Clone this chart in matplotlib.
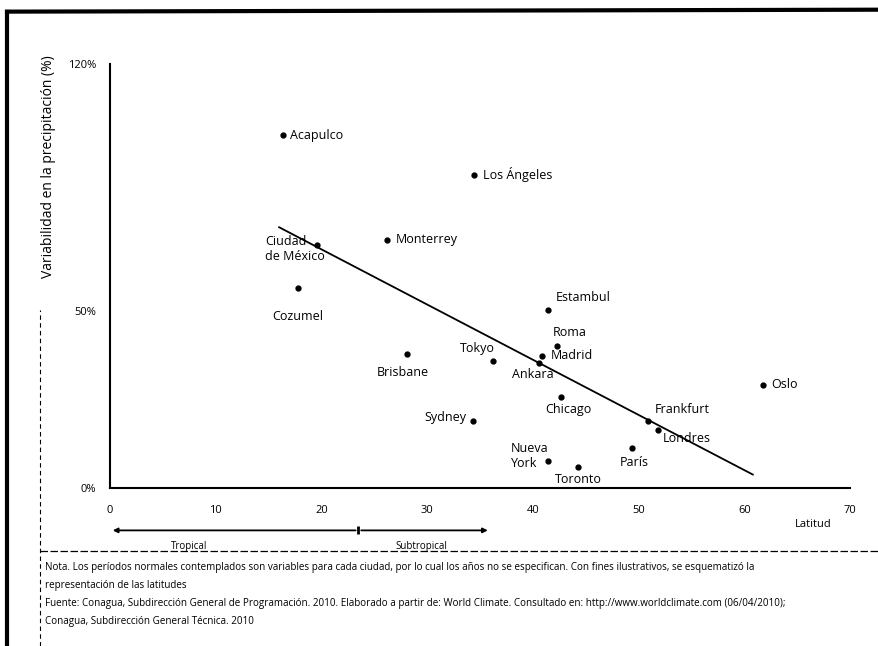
import matplotlib
matplotlib.use('Agg')
import matplotlib.pyplot as plt
from matplotlib.lines import Line2D

plt.rcParams['font.family'] = ['Open Sans', 'DejaVu Sans']

# ciudades, latitud (grados) y variabilidad de la precipitacion (%)
ciudades = ['Acapulco', 'Los Ángeles', 'Ciudad\nde México', 'Monterrey', 'Cozumel',
            'Estambul', 'Roma', 'Madrid', 'Ankara', 'Tokyo', 'Brisbane', 'Sydney',
            'Chicago', 'Nueva\nYork', 'Toronto', 'París', 'Frankfurt', 'Londres', 'Oslo']
latitud = [16.4, 34.4, 19.6, 26.2, 17.8,
           41.4, 42.3, 40.9, 40.6, 36.2, 28.1, 34.3,
           42.7, 41.4, 44.3, 49.4, 50.9, 51.8, 61.8]
variabilidad = [99.9, 88.6, 68.8, 70.2, 56.6,
                50.4, 40.2, 37.4, 35.5, 36.0, 37.9, 19.0,
                25.8, 7.6, 5.9, 11.3, 19.0, 16.4, 29.2]

# tendencia
tend_lat = [16.0, 60.8]
tend_var = [73.8, 3.8]

x_ticks = [0, 10, 20, 30, 40, 50, 60, 70]
y_ticks = [0, 50, 120]
y_tick_labels = ['0%', '50%', '120%']

zonas = [0, 23.5, 36]
zona_labels = ['Tropical', 'Subtropical']
zona_label_x = [7.5, 29.5]

# posicion de las etiquetas (pixeles desde el punto)
offsets = [(7, 0, 'left', 'center'), (9, 0, 'left', 'center'), (-52, 10, 'left', 'top'),
           (9, 0, 'left', 'center'), (0, -28, 'center', 'center'),
           (8, 12, 'left', 'center'), (-4, 13, 'left', 'center'), (8, 0, 'left', 'center'),
           (-6, -12, 'center', 'center'), (2, 12, 'right', 'center'), (-4, -18, 'center', 'center'),
           (-6, 3, 'right', 'center'), (7, -13, 'center', 'center'), (-37, -9, 'left', 'bottom'),
           (0, -12, 'center', 'center'), (2, -14, 'center', 'center'), (7, 11, 'left', 'center'),
           (5, -8, 'left', 'center'), (8, 0, 'left', 'center')]

fig = plt.figure(figsize=(8.79, 6.46), dpi=100)
ax = fig.add_axes([0.1251, 0.2446, 0.842, 0.6563])

ax.plot(tend_lat, tend_var, color='black', lw=1.3)
ax.plot(latitud, variabilidad, 'o', color='black', markersize=3.5)

for c, x, y, (dx, dy, ha, va) in zip(ciudades, latitud, variabilidad, offsets):
    ax.annotate(c, (x, y), xytext=(dx, dy), textcoords='offset pixels',
                ha=ha, va=va, fontsize=9, multialignment='left')

ax.set_xlim(0, 70)
ax.set_ylim(0, 120)
ax.set_xticks(x_ticks)
ax.set_yticks(y_ticks)
ax.set_yticklabels(y_tick_labels)
ax.tick_params(length=0, labelsize=8, pad=12)
ax.tick_params(axis='y', pad=10)
for s in ['top', 'right']:
    ax.spines[s].set_visible(False)
for s in ['left', 'bottom']:
    ax.spines[s].set_linewidth(1.5)

ax.text(66.5, -0.085, 'Latitud', transform=ax.get_xaxis_transform(), fontsize=8,
        ha='center', va='center')

# zonas tropical / subtropical
tr = ax.get_xaxis_transform()
ax.annotate('', xy=(zonas[0], -0.1), xytext=(zonas[1], -0.1), xycoords=tr,
            arrowprops=dict(arrowstyle='-|>', color='black', lw=1.3, mutation_scale=7))
ax.annotate('', xy=(zonas[2], -0.1), xytext=(zonas[1], -0.1), xycoords=tr,
            arrowprops=dict(arrowstyle='-|>', color='black', lw=1.3, mutation_scale=7))
ax.plot([zonas[1]], [-0.1], marker='|', color='black', markersize=6, mew=2,
        transform=tr, clip_on=False)
for lab, xl in zip(zona_labels, zona_label_x):
    ax.text(xl, -0.137, lab, transform=tr, fontsize=7, ha='center', va='center')

fig.text(0.055, 0.915, 'Variabilidad en la precipitación (%)', rotation=90,
         fontsize=10, ha='center', va='top')

# marco del documento
fig.add_artist(Line2D([0.008, 0.008], [0.0, 0.982], color='black', lw=3))
fig.add_artist(Line2D([0.008, 1.0], [0.982, 0.985], color='black', lw=3))
fig.add_artist(Line2D([0.046, 0.046], [0.0, 0.52], color='black', lw=0.8, ls=(0, (4, 3))))
fig.add_artist(Line2D([0.046, 1.0], [0.147, 0.147], color='black', lw=0.9, ls=(0, (6, 2))))

nota = ['Nota. Los períodos normales contemplados son variables para cada ciudad, por lo cual los años no se especifican. Con fines ilustrativos, se esquematizó la',
        'representación de las latitudes',
        'Fuente: Conagua, Subdirección General de Programación. 2010. Elaborado a partir de: World Climate. Consultado en: http://www.worldclimate.com (06/04/2010);',
        'Conagua, Subdirección General Técnica. 2010']
for i, linea in enumerate(nota):
    fig.text(0.051, 0.121 - i * 0.0278, linea, fontsize=7.1, ha='left', va='center')

fig.savefig('out.png', dpi=100)
